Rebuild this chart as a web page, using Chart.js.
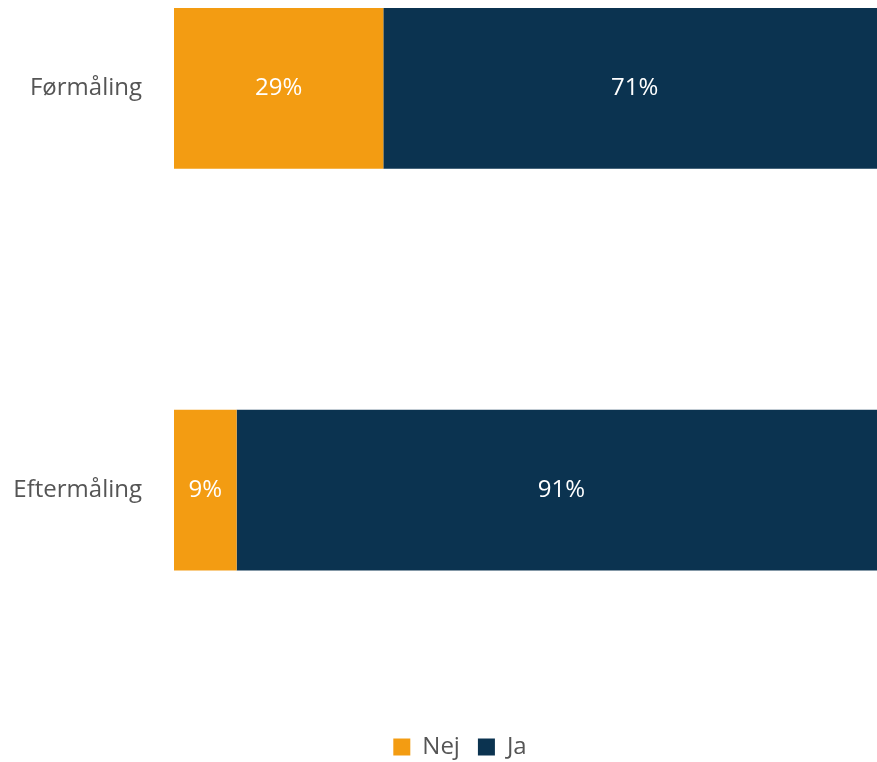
<!DOCTYPE html>
<html>
<head>
<meta charset="utf-8">
<script src="https://cdn.jsdelivr.net/npm/chart.js@4.4.0/dist/chart.umd.min.js"></script>
<style>
  html,body{margin:0;padding:0;background:#fff;overflow:hidden;}
  /* the original picture is a crop: the plot runs past the top and right edges */
  #page{position:relative;width:877px;height:762px;overflow:hidden;}
  #wrap{position:absolute;left:0;top:-159px;width:886px;height:928px;}
</style>
</head>
<body>
<div id="page"><div id="wrap"><canvas id="c"></canvas></div></div>
<script>
const categories = ['Førmåling', 'Eftermåling'];
const seriesNames = ['Nej', 'Ja'];
const nejValues = [29.4, 8.8];
const jaValues  = [70.6, 91.2];
const seriesColors = ['#F39C12', '#0B3350'];

/* white % labels centred in each bar segment */
const barLabels = {
  id: 'barLabels',
  afterDatasetsDraw(chart) {
    const ctx = chart.ctx;
    ctx.save();
    ctx.font = '24px "Open Sans"';
    ctx.fillStyle = '#ffffff';
    ctx.textAlign = 'center';
    ctx.textBaseline = 'middle';
    chart.data.datasets.forEach((ds, i) => {
      chart.getDatasetMeta(i).data.forEach((bar, j) => {
        const p = bar.getProps(['x', 'base', 'y'], true);
        ctx.fillText(Math.round(ds.data[j]) + '%', (p.x + p.base) / 2, p.y);
      });
    });
    ctx.restore();
  }
};

/* legend sits a bit right of the canvas centre in the original */
const legendShift = {
  id: 'legendShift',
  afterLayout(chart) {
    if (chart.legend) chart.legend.left = 34;
  }
};

new Chart(document.getElementById('c'), {
  type: 'bar',
  data: {
    labels: categories,
    datasets: [
      {label: seriesNames[0], data: nejValues, backgroundColor: seriesColors[0]},
      {label: seriesNames[1], data: jaValues,  backgroundColor: seriesColors[1]}
    ]
  },
  options: {
    indexAxis: 'y',
    responsive: true, maintainAspectRatio: false, animation: false,
    layout: {padding: 0},
    datasets: {bar: {categoryPercentage: 0.4, barPercentage: 1}},
    plugins: {
      legend: {
        position: 'bottom',
        labels: {boxWidth: 17, boxHeight: 17, padding: 18, color: '#555', font: {family: 'Open Sans', size: 24}}
      },
      tooltip: {enabled: false}
    },
    scales: {
      x: {
        stacked: true, min: 0, max: 100,
        grid: {display: false, drawTicks: false},
        border: {display: false},
        ticks: {display: false},
        afterFit: s => { s.height = 26; }
      },
      y: {
        stacked: true,
        grid: {display: false, drawTicks: false},
        border: {display: false},
        ticks: {color: '#555', padding: 32, font: {family: 'Open Sans', size: 24}},
        afterFit: s => { s.width = 174; }
      }
    }
  },
  plugins: [barLabels, legendShift]
});
</script>
</body>
</html>
